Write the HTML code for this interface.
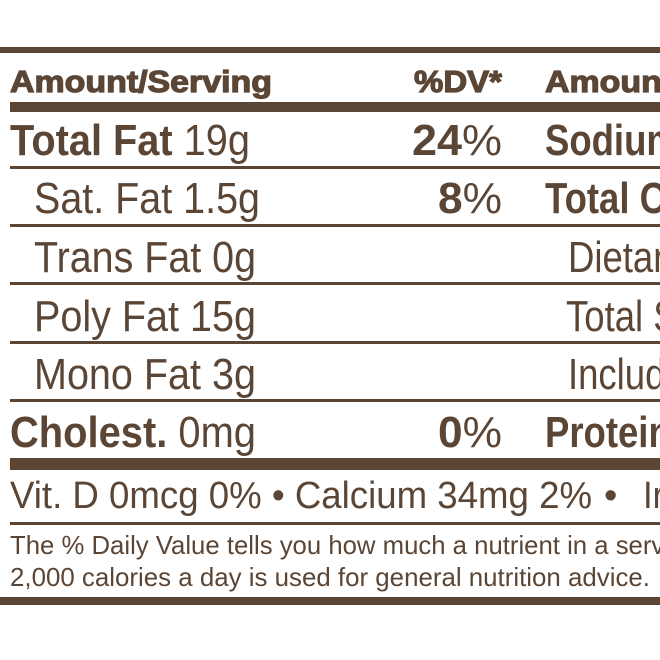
<!DOCTYPE html>
<html><head><style>
html,body{margin:0;padding:0;background:#fff;width:660px;height:660px;overflow:hidden}
svg{display:block}
text{font-family:"Liberation Sans",Arial,sans-serif;fill:#5b4636}
.b{font-weight:bold}
.h{font-weight:bold;stroke:#5b4636;stroke-width:1.2}
</style></head><body>
<svg width="660" height="660" viewBox="0 0 660 660">
<g fill="#5b4636">
<rect x="0" y="47" width="660" height="6"/>
<rect x="10" y="102" width="650" height="10"/>
<rect x="10" y="166" width="650" height="3"/>
<rect x="10" y="224" width="650" height="3"/>
<rect x="10" y="282" width="650" height="3"/>
<rect x="10" y="341" width="650" height="3"/>
<rect x="10" y="399" width="650" height="3"/>
<rect x="10" y="458" width="650" height="12"/>
<rect x="10" y="522" width="650" height="3"/>
<rect x="0" y="597" width="660" height="8"/>
</g>
<text x="10" y="92" font-size="31" class="h" textLength="262" lengthAdjust="spacingAndGlyphs">Amount/Serving</text>
<text x="414" y="92" font-size="31" class="h" textLength="88" lengthAdjust="spacingAndGlyphs">%DV*</text>
<text x="545" y="92" font-size="31" class="h" textLength="262" lengthAdjust="spacingAndGlyphs">Amount/Serving</text>

<text x="10" y="155" font-size="44" textLength="240" lengthAdjust="spacingAndGlyphs"><tspan class="b">Total Fat</tspan> 19g</text>
<text x="412" y="155" font-size="44" textLength="90" lengthAdjust="spacingAndGlyphs"><tspan class="b">24</tspan>%</text>

<text x="34" y="213" font-size="44" textLength="226" lengthAdjust="spacingAndGlyphs">Sat. Fat 1.5g</text>
<text x="438" y="213" font-size="44" textLength="64" lengthAdjust="spacingAndGlyphs"><tspan class="b">8</tspan>%</text>

<text x="34" y="272" font-size="44" textLength="222" lengthAdjust="spacingAndGlyphs">Trans Fat 0g</text>
<text x="34" y="331" font-size="44" textLength="222" lengthAdjust="spacingAndGlyphs">Poly Fat 15g</text>
<text x="34" y="389" font-size="44" textLength="222" lengthAdjust="spacingAndGlyphs">Mono Fat 3g</text>

<text x="10" y="447" font-size="44" textLength="246" lengthAdjust="spacingAndGlyphs"><tspan class="b">Cholest.</tspan> 0mg</text>
<text x="438" y="447" font-size="44" textLength="64" lengthAdjust="spacingAndGlyphs"><tspan class="b">0</tspan>%</text>

<g transform="scale(0.83,1)">
<text x="656.6" y="155" font-size="44" class="b">Sodium</text>
<text x="656.6" y="213" font-size="44" class="b">Total Carb.</text>
<text x="684.3" y="272" font-size="44">Dietary Fiber</text>
<text x="682" y="331" font-size="44">Total Sugars</text>
<text x="684.3" y="389" font-size="44">Includes</text>
<text x="656.6" y="447" font-size="44" class="b">Protein</text>
</g>

<text x="10" y="508" font-size="38" textLength="582" lengthAdjust="spacingAndGlyphs">Vit. D 0mcg 0% • Calcium 34mg 2%</text>
<text x="604" y="508" font-size="38">•</text>
<text x="643" y="508" font-size="38" textLength="60" lengthAdjust="spacingAndGlyphs">Iron</text>
<text x="10" y="554" font-size="26" textLength="660" lengthAdjust="spacingAndGlyphs">The % Daily Value tells you how much a nutrient in a servi</text>
<text x="10" y="586" font-size="26" textLength="640" lengthAdjust="spacingAndGlyphs">2,000 calories a day is used for general nutrition advice.</text>
</svg>
</body></html>
